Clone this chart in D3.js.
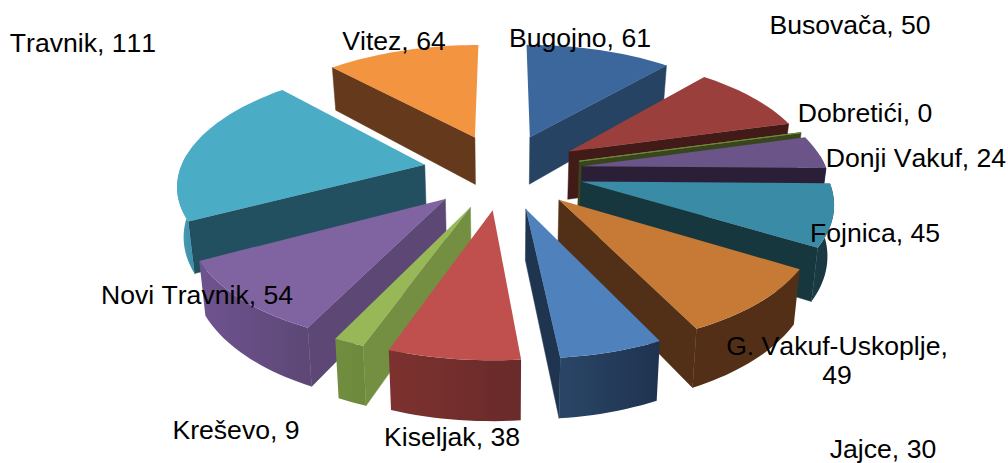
<!DOCTYPE html>
<html>
<head>
<meta charset="utf-8">
<script src="https://cdn.jsdelivr.net/npm/d3@7"></script>
<style>
  html, body { margin: 0; padding: 0; background: #fff; }
  text { font-family: "Liberation Sans", Arial, sans-serif; font-size: 26.6px; fill: #000; font-kerning: none; }
</style>
</head>
<body>
<svg id="chart" width="1008" height="463"></svg>
<script>
const categories = ['Bugojno', 'Busovača', 'Dobretići', 'Donji Vakuf', 'Fojnica', 'G. Vakuf-Uskoplje',
    'Jajce', 'Kiseljak', 'Kreševo', 'Novi Travnik', 'Travnik', 'Vitez'];
const values = [61, 50, 0, 24, 45, 49, 30, 38, 9, 54, 111, 64];
const colors = ['#3b679c', '#9a3f3c', '#6f8a3a', '#6a5488', '#3a8ba5', '#c77a35',
    '#4f81bd', '#bf504d', '#98b857', '#8064a2', '#4bacc6', '#f39441'];
const cutColors = ['#264364', '#421a18', '#38451d', '#2b1f37', '#17373f', '#522f17',
    '#1f344f', '#6b2b2b', '#748f42', '#5c4775', '#235060', '#653a1c'];
const rimColors = [['#264364', '#264364'], ['#421a18', '#421a18'], ['#38451d', '#38451d'], ['#2b1f37', '#2b1f37'],
    ['#1c3c46', '#16343c'], ['#532f17', '#532f17'], ['#2a4666', '#1f3350'], ['#7d322f', '#682a2a'],
    ['#718e40', '#6d8a3c'], ['#6f5390', '#5c4775'], ['#47a0b8', '#3d8fa8'], ['#653a1c', '#653a1c']];
// label anchors, one line per entry in labelLines
const labelLines = [['Bugojno, 61'], ['Busovača, 50'], ['Dobretići, 0'], ['Donji Vakuf, 24'], ['Fojnica, 45'],
    ['G. Vakuf-Uskoplje,', '49'], ['Jajce, 30'], ['Kiseljak, 38'], ['Kreševo, 9'], ['Novi Travnik, 54'], ['Travnik, 111'], ['Vitez, 64']];
const labelPos = [[580, 47], [850, 34], [865, 122], [916, 167], [875, 242], [837, 355], [883, 458], [452, 446], [236, 439], [197, 304], [83, 52], [394, 50]];

const cx = 503, cy = 171;
const R = 245, explode = 80, depth = 49;
const tilt = 0.47, persp = 0.0006;

// flat disc coordinates to screen, z is how far down the wall
function project(X, Y, z) {
    const s = 1 / (1 - persp * Y);
    return [cx + X * s * (1 - 0.02 * z / depth), cy + Y * tilt * s + z * s];
}

const pie = d3.pie().sort(null).value(d => d)(values);

const slices = pie.map((d, i) => {
    const mid = (d.startAngle + d.endAngle) / 2;
    return {
        i,
        a0: d.startAngle,
        a1: d.endAngle,
        ox: Math.sin(mid) * explode,
        oy: -Math.cos(mid) * explode,
        color: colors[i]
    };
});

function rim(s, z, from, to) {
    const n = Math.max(2, Math.ceil((to - from) / 0.03));
    return d3.range(n + 1).map(k => {
        const a = from + (to - from) * k / n;
        return project(s.ox + Math.sin(a) * R, s.oy - Math.cos(a) * R, z);
    });
}

const svg = d3.select('#chart');
const line = d3.line();
const defs = svg.append('defs');
const g = svg.append('g');

function wallGradient(s) {
    const id = 'wall' + s.i;
    const grad = defs.append('linearGradient').attr('id', id)
        .attr('x1', 0).attr('x2', 1).attr('y1', 0).attr('y2', 0);
    grad.append('stop').attr('offset', '0%').attr('stop-color', rimColors[s.i][0]);
    grad.append('stop').attr('offset', '100%').attr('stop-color', rimColors[s.i][1]);
    return `url(#${id})`;
}

function cutFace(s, a) {
    const apexTop = project(s.ox, s.oy, 0);
    const apexBottom = project(s.ox, s.oy, depth);
    const p = rim(s, 0, a, a)[0];
    const q = rim(s, depth, a, a)[0];
    g.append('path')
        .attr('d', line([apexTop, p, q, apexBottom]) + 'Z')
        .attr('fill', cutColors[s.i])
        .attr('stroke', cutColors[s.i]).attr('stroke-width', 0.5);
}

// paint from the back of the disc to the front
slices.slice().sort((a, b) => {
    const ya = a.oy - Math.cos((a.a0 + a.a1) / 2) * R * 0.5;
    const yb = b.oy - Math.cos((b.a0 + b.a1) / 2) * R * 0.5;
    return ya - yb;
}).forEach(s => {
    // only faces turned towards the viewer
    if (Math.sin(s.a0) < 0) cutFace(s, s.a0);
    if (Math.sin(s.a1) > 0) cutFace(s, s.a1);

    // outer wall, front half of the disc and a little past it
    const from = Math.max(s.a0, Math.PI / 2 - 0.1);
    const to = Math.min(s.a1, Math.PI * 1.5 + 0.1);
    if (to > from) {
        const wallTop = rim(s, 0, from, to);
        const wallBottom = rim(s, depth, from, to);
        g.append('path')
            .attr('d', line(wallTop.concat(wallBottom.reverse())) + 'Z')
            .attr('fill', wallGradient(s));
    }

    // top face
    g.append('path')
        .attr('d', line([project(s.ox, s.oy, 0)].concat(rim(s, 0, s.a0, s.a1))) + 'Z')
        .attr('fill', s.color)
        .attr('stroke', values[s.i] === 0 ? s.color : 'none')
        .attr('stroke-width', 1);
});

// labels sit over the pie
const labels = svg.append('g');
labelLines.forEach((lines, i) => {
    const t = labels.append('text').attr('text-anchor', 'middle')
        .attr('x', labelPos[i][0]).attr('y', labelPos[i][1]);
    lines.forEach((l, k) => {
        t.append('tspan').attr('x', labelPos[i][0]).attr('dy', k === 0 ? 0 : 29).text(l);
    });
});
</script>
</body>
</html>
